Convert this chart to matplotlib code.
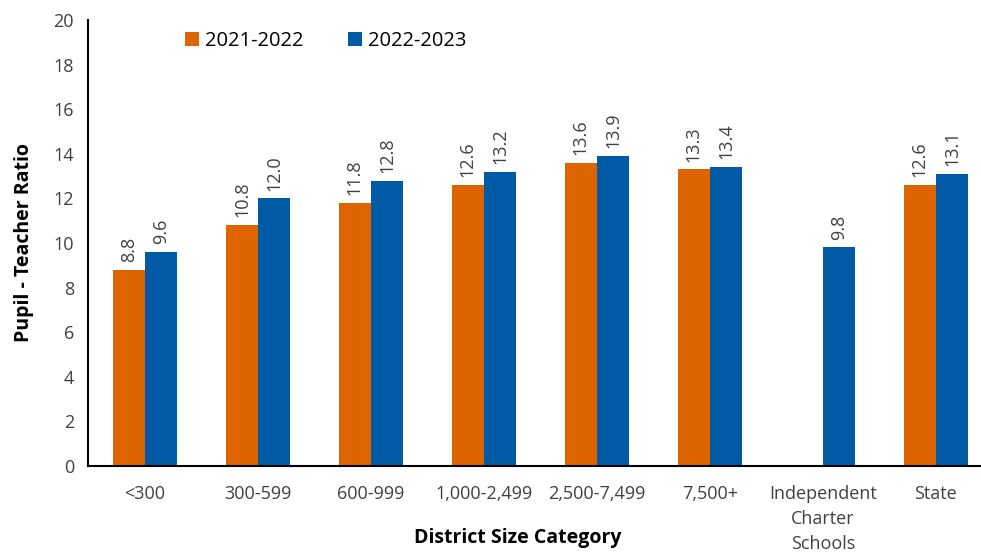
import numpy as np
import matplotlib.pyplot as plt

plt.rcParams['font.family'] = ['Open Sans', 'DejaVu Sans']

categories = ["<300", "300-599", "600-999", "1,000-2,499", "2,500-7,499",
              "7,500+", "Independent\nCharter\nSchools", "State"]
ratio_2122 = [8.8, 10.8, 11.8, 12.6, 13.6, 13.3, np.nan, 12.6]
ratio_2223 = [9.6, 12.0, 12.8, 13.2, 13.9, 13.4, 9.8, 13.1]

orange = "#DE6400"
blue = "#005AA5"
gray = "#404040"

fig = plt.figure(figsize=(9.81, 5.52), dpi=100)
ax = fig.add_axes([88/981, 86/552, 1 - 88/981, 446/552])

x = np.arange(len(categories))
w = 0.285
b1 = ax.bar(x - w/2, ratio_2122, w, color=orange, label="2021-2022")
b2 = ax.bar(x + w/2, ratio_2223, w, color=blue, label="2022-2023")

for bars, vals in ((b1, ratio_2122), (b2, ratio_2223)):
    for rect, v in zip(bars, vals):
        if np.isnan(v):
            continue
        ax.text(rect.get_x() + rect.get_width()/2, v + 0.35, f"{v:.1f}",
                rotation=90, ha="center", va="bottom", fontsize=13, color=gray)

ax.set_ylim(0, 20)
ax.set_xlim(-0.505, 7.4)
ax.set_yticks(range(0, 21, 2))
ax.set_xticks(x)
ax.set_xticklabels(categories)
ax.tick_params(axis="both", length=0, labelsize=13, colors=gray, pad=10)
ax.tick_params(axis="x", pad=14)
for lbl in ax.get_xticklabels():
    lbl.set_linespacing(1.5)

for s in ("top", "right"):
    ax.spines[s].set_visible(False)
for s in ("left", "bottom"):
    ax.spines[s].set_linewidth(1.5)
    ax.spines[s].set_color("black")

ax.set_ylabel("Pupil - Teacher Ratio", fontsize=14, fontweight="bold", labelpad=14)
fig.text(518/981, 1 - 538/552, "District Size Category", fontsize=14,
         fontweight="bold", ha="center", va="center")

ax.legend(loc="upper left", bbox_to_anchor=(0.088, 1.015), ncol=2, frameon=False,
          fontsize=14.5, handlelength=0.7, handleheight=0.7, columnspacing=2.2,
          handletextpad=0.3)

fig.savefig("out.png", dpi=100)
